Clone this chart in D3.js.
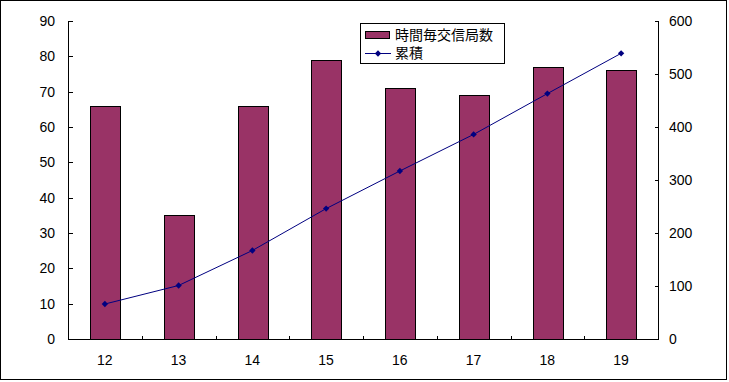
<!DOCTYPE html>
<html>
<head>
<meta charset="utf-8">
<script src="https://cdn.jsdelivr.net/npm/d3@7"></script>
<style>
  body { margin: 0; background: #fff; }
  svg text { font-family: "Liberation Sans", "Noto Sans CJK JP", sans-serif; font-size: 14px; fill: #000; }
</style>
</head>
<body>
<div id="chart"></div>
<script>
var years = ["12", "13", "14", "15", "16", "17", "18", "19"];
var counts = [66, 35, 66, 79, 71, 69, 77, 76];
var cumulative = [66, 101, 167, 246, 317, 386, 463, 539];
var leftTicks = [0, 10, 20, 30, 40, 50, 60, 70, 80, 90];
var rightTicks = [0, 100, 200, 300, 400, 500, 600];
var barName = "時間毎交信局数",
    lineName = "累積";

var width = 729, height = 382;
var plotLeft = 68, plotRight = 658, plotTop = 21, plotBottom = 339;

var svg = d3.select("#chart").append("svg")
    .attr("width", width)
    .attr("height", height);

svg.append("rect")
    .attr("x", 0.5).attr("y", 0.5)
    .attr("width", width - 3).attr("height", height - 3)
    .attr("fill", "#fff")
    .attr("stroke", "#000");

var x = d3.scaleBand()
    .domain(years)
    .range([plotLeft, plotRight])
    .paddingInner(0.6)
    .paddingOuter(0.3);

var xc = d3.scaleBand().domain(years).range([plotLeft, plotRight]);

var y = d3.scaleLinear().domain([0, 90]).range([plotBottom, plotTop]);
var y2 = d3.scaleLinear().domain([0, 600]).range([plotBottom, plotTop]);

// bars
svg.append("g")
  .selectAll("rect")
  .data(counts)
  .enter().append("rect")
    .attr("x", (d, i) => Math.round(x(years[i])) + 0.5)
    .attr("y", d => Math.round(y(d)) + 0.5)
    .attr("width", Math.round(x.bandwidth()))
    .attr("height", d => plotBottom - Math.round(y(d)))
    .attr("fill", "#993366")
    .attr("stroke", "#000");

// axes
var leftAxis = d3.axisRight(y).tickValues(leftTicks).tickSize(4).tickFormat("");
var gl = svg.append("g").attr("transform", `translate(${plotLeft + 0.5},0)`).call(leftAxis);
gl.select(".domain").attr("d", `M0,${plotTop}V${plotBottom}`);
svg.append("g").selectAll("text").data(leftTicks).enter().append("text")
    .attr("x", 55).attr("y", d => y(d)).attr("dy", "0.36em")
    .attr("text-anchor", "end").text(d => d);

var rightAxis = d3.axisLeft(y2).tickValues(rightTicks).tickSize(4).tickFormat("");
var gr = svg.append("g").attr("transform", `translate(${plotRight + 0.5},0)`).call(rightAxis);
gr.select(".domain").attr("d", `M0,${plotTop}V${plotBottom}`);
svg.append("g").selectAll("text").data(rightTicks).enter().append("text")
    .attr("x", 669).attr("y", d => y2(d)).attr("dy", "0.36em")
    .attr("text-anchor", "start").text(d => d);

var bx = d3.scaleLinear().domain([0, years.length]).range([plotLeft, plotRight]);
var bottomAxis = d3.axisTop(bx).ticks(years.length).tickSize(4).tickFormat("");
var gb = svg.append("g").attr("transform", `translate(0,${plotBottom + 0.5})`).call(bottomAxis);
gb.select(".domain").attr("d", `M${plotLeft},0H${plotRight + 1}`);
svg.append("g").selectAll("text").data(years).enter().append("text")
    .attr("x", d => xc(d) + xc.bandwidth() / 2).attr("y", 365)
    .attr("text-anchor", "middle").text(d => d);

svg.selectAll(".tick line, .domain").attr("stroke", "#000").attr("shape-rendering", "crispEdges");

// cumulative line
var line = d3.line()
    .x((d, i) => xc(years[i]) + xc.bandwidth() / 2)
    .y(d => y2(d));

svg.append("path")
    .datum(cumulative)
    .attr("fill", "none")
    .attr("stroke", "#000080")
    .attr("stroke-width", 1)
    .attr("d", line);

// diamond = square turned 45 degrees
var diamond = d3.symbol().type(d3.symbolSquare).size(20);
svg.append("g").selectAll("path")
  .data(cumulative)
  .enter().append("path")
    .attr("transform", (d, i) => `translate(${xc(years[i]) + xc.bandwidth() / 2},${y2(d)}) rotate(45)`)
    .attr("d", diamond)
    .attr("fill", "#000080");

// legend
var lg = svg.append("g");
lg.append("rect").attr("x", 360.5).attr("y", 23.5).attr("width", 144).attr("height", 40)
    .attr("fill", "#fff").attr("stroke", "#000");
lg.append("rect").attr("x", 365.5).attr("y", 31.5).attr("width", 24).attr("height", 7)
    .attr("fill", "#993366").attr("stroke", "#000");
lg.append("text").attr("x", 395).attr("y", 35).attr("dy", "0.36em").text(barName);
lg.append("line").attr("x1", 365).attr("x2", 391).attr("y1", 53.5).attr("y2", 53.5)
    .attr("stroke", "#000080");
lg.append("path").attr("transform", "translate(378,53.5) rotate(45)").attr("d", diamond).attr("fill", "#000080");
lg.append("text").attr("x", 395).attr("y", 53).attr("dy", "0.36em").text(lineName);
</script>
</body>
</html>
